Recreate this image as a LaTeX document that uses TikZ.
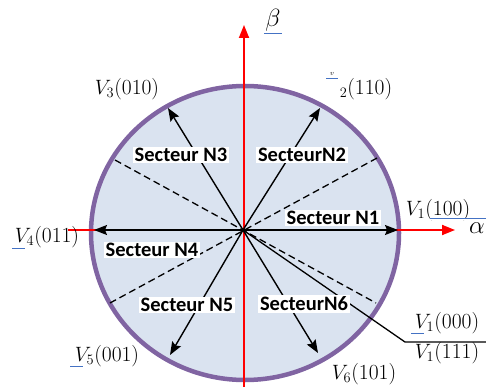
\documentclass[tikz,border=0pt]{standalone}
\usepackage{fontspec}
\newfontfamily\secfont{Carlito}
\usetikzlibrary{arrows.meta}
\definecolor{fillc}{HTML}{DAE3F0}
\definecolor{ringc}{HTML}{8064A2}
\definecolor{ulc}{HTML}{4472C4}
\tikzset{
  axis/.style={red, line width=1.8pt, -{Triangle[length=13pt,width=10pt]}},
  vec/.style={black, line width=1.4pt, -{Stealth[length=13pt,width=10pt,inset=2pt]}},
  sep/.style={black, line width=1.3pt, dash pattern=on 7pt off 4pt},
  lead/.style={black, line width=1.3pt},
  sector/.style={fill=white, inner xsep=2pt, inner ysep=1.5pt, font=\secfont\bfseries\fontsize{20.5}{22}\selectfont},
  vlab/.style={inner sep=0pt, font=\fontsize{21.5}{24}\selectfont},
  ul/.style={ulc, line width=0.6pt, double distance=1pt}
}
\begin{document}
\begin{tikzpicture}[x=1pt,y=-1pt]
\useasboundingbox (0,0) rectangle (486,387);
\coordinate (O) at (243,230);
% circle
\draw[ringc, line width=4.5pt, fill=fillc] (245,233) ellipse [x radius=154, y radius=147];
% axes
\coordinate (bS) at (244,392);
\coordinate (bE) at (244,25);
\coordinate (aS) at (68,230);
\coordinate (aE) at (455,230);
\draw[axis] (bS) -- (bE);
\draw[axis] (aS) -- (aE);
% sector boundaries
\coordinate (d1a) at (115,160);
\coordinate (d1b) at (376,303);
\coordinate (d2a) at (377,158);
\coordinate (d2b) at (110,303);
\draw[sep] (d1a) -- (d1b);
\draw[sep] (d2a) -- (d2b);
% leader
\coordinate (k) at (405,342);
\coordinate (kE) at (490,342);
\draw[lead] (O) -- (k) -- (kE);
% vectors
\coordinate (t1) at (398,230);
\coordinate (t2) at (320,108);
\coordinate (t3) at (168,108);
\coordinate (t4) at (94,230);
\coordinate (t5) at (170,355);
\coordinate (t6) at (318,353);
\foreach \t in {t1,t2,t3,t4,t5,t6} \draw[vec] (O) -- (\t);
% sector labels
\node[sector] (s3) at (181,155) {Secteur N3};
\node[sector] (s2) at (302,155) {SecteurN2};
\node[sector] (s1) at (333,218) {Secteur N1};
\node[sector] (s4) at (152,250) {Secteur N4};
\node[sector] (s5) at (187,305) {Secteur N5};
\node[sector] (s6) at (304,304) {SecteurN6};
% vector labels
\node[vlab] (l3) at (127,89) {$V_3$(010)};
\node[vlab] (l2) at (366,89) {${}_2$(110)};
\node[inner sep=0pt, font=\fontsize{7}{8}\selectfont] (l2m) at (332,74) {$v$};
\node[vlab] (l1) at (438,210) {$V_1$(100)};
\node[vlab] (l4) at (47,237) {$V_4$(011)};
\node[vlab] (l5) at (107,356) {$V_5$(001)};
\node[vlab] (l6) at (364,374) {$V_6$(101)};
\node[vlab] (l0) at (447,323) {$V_1$(000)};
\node[vlab] (l7) at (447,353) {$V_1$(111)};
\node[inner sep=0pt, font=\fontsize{24}{26}\selectfont] (beta) at (273,20) {$\beta$};
\node[inner sep=0pt, font=\fontsize{24}{26}\selectfont] (alpha) at (477,228) {$\alpha$};
% proofing underlines
\draw[ul] (264,33) -- (282,33);
\draw[ul] (326,78) -- (338,78);
\draw[ul] (430,219) -- (486,219);
\draw[ul] (12,249) -- (25,249);
\draw[ul] (70,367) -- (83,367);
\draw[ul] (411,334) -- (424,334);
\end{tikzpicture}
\end{document}
